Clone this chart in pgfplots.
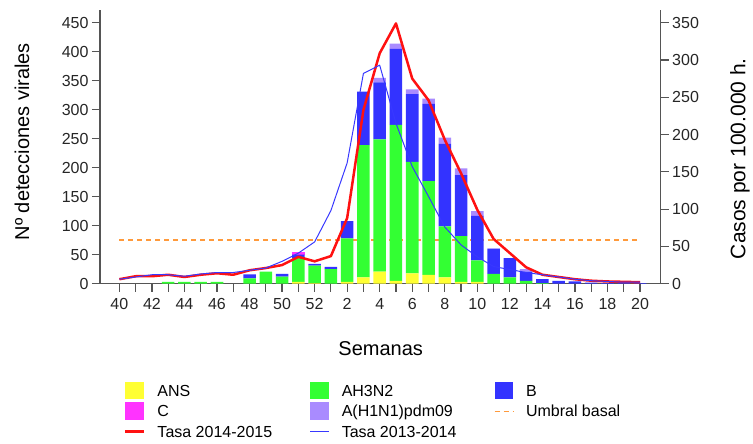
\documentclass[border=0pt]{standalone}
\usepackage{fontspec}
\setmainfont{Liberation Sans}
\usepackage{pgfplots}
\usepackage{pgfplotstable}
\pgfplotsset{compat=1.18}
\definecolor{ansc}{HTML}{FFFF33}
\definecolor{h3c}{HTML}{33FF33}
\definecolor{bc}{HTML}{3333FF}
\definecolor{cc}{HTML}{FF33FF}
\definecolor{h1c}{HTML}{A98BFF}
\definecolor{redl}{HTML}{FF1111}
\definecolor{bluel}{HTML}{3838FF}
\definecolor{umb}{HTML}{FF9A3C}
\definecolor{axc}{HTML}{555555}
\pgfplotsset{
 swatch/.style={legend image code/.code={\fill[##1] (0pt,-8.85pt) rectangle (18.7pt,8.85pt);}},
 lineswatch/.style={legend image code/.code={\path[draw=none,fill=none] (0pt,-8.85pt) rectangle (18.7pt,8.85pt); \draw[##1] (0pt,0pt) -- (18.7pt,0pt);}},
 common/.style={scale only axis, width=560.7pt, height=273.7pt, xmin=-1.19, xmax=33.27, ymin=0,
   at={(100pt,160.3pt)}, anchor=south west,
   /pgf/number format/assume math mode=true,
   tick label style={font=\fontsize{16}{19}\selectfont, text=black!85},
   tick align=outside, major tick length=8pt,
   every tick/.style={axc, line width=1.2pt},
   axis line style={axc, line width=1.2pt}}
}
\pgfplotstableread{
idx ans h3 b c h1 red blue
0 0 0 0 0 0 6 6
1 0 0 0 0 0 10 9
2 0 0 0 0 0 10 12
3 0 3 0 0 0 12 12
4 0 3 0 0 0 9 10
5 0 3 0 0 0 12 13
6 0 3 0 0 0 14 15
7 0 0 0 0 0 12 15
8 0 9 7 0 0 18 18
9 0 21 0 0 0 21 21
10 0 12 5 0 0 25 30
11 3 41 6 5 0 36 41
12 1 30 3 0 0 30 56
13 0 25 4 0 0 37 98
14 3 75 30 0 0 88 162
15 11 228 92 0 0 233 282
16 21 228 98 0 8 309 293
17 5 269 131 0 9 349 215
18 18 192 117 0 8 275 157
19 15 162 133 0 9 246 117
20 11 88 142 0 11 193 76
21 3 79 105 0 12 148 52
22 3 37 77 0 8 99 36
23 0 17 43 0 1 60 23
24 0 11 33 0 0 41 19
25 0 5 16 0 4 22 15
26 0 1 7 0 0 12 12
27 0 0 5 0 0 9 9
28 0 0 4 0 0 6 6
29 0 0 2 0 0 4 4
30 0 0 1 0 0 3 3
31 0 0 1 0 0 2.5 2
32 0 0 1 0 0 2 2
}\data
\pgfplotstableread{
x y
0 58.6
32 58.6
}\umbral
\begin{document}
\begin{tikzpicture}
\useasboundingbox (0,0) rectangle (753pt,444pt);
% basal threshold (behind bars), right-axis units
\begin{axis}[common, ymax=367, hide axis]
\addplot[umb, line width=1.5pt, dash pattern=on 5pt off 4pt] table[x=x,y=y]{\umbral};
\end{axis}
% bars, left axis
\begin{axis}[common, ymax=471.9,
  axis x line*=bottom, axis y line*=left,
  ybar stacked, bar width=0.77,
  xtick={0,...,32},
  xticklabels={40,,42,,44,,46,,48,,50,,52,,2,,4,,6,,8,,10,,12,,14,,16,,18,,20},
  xticklabel style={yshift=-3pt},
  ytick={0,50,...,450},
  xlabel={Semanas},
  xlabel style={at={(axis description cs:0.5006,-0.2386)}, anchor=center, font=\fontsize{20}{24}\selectfont},
  ylabel={Nº detecciones virales},
  ylabel style={at={(axis description cs:-0.139,0.519)}, anchor=center, font=\fontsize{20}{24}\selectfont},
  ]
\addplot[fill=ansc, draw=none] table[x=idx,y=ans]{\data};
\addplot[fill=h3c, draw=none] table[x=idx,y=h3]{\data};
\addplot[fill=bc, draw=none] table[x=idx,y=b]{\data};
\addplot[fill=cc, draw=none] table[x=idx,y=c]{\data};
\addplot[fill=h1c, draw=none] table[x=idx,y=h1]{\data};
\end{axis}
% rates, right axis
\begin{axis}[common, ymax=367,
  axis x line=none, axis y line*=right,
  ytick={0,50,...,350},
  ylabel={Casos por 100.000 h.},
  ylabel style={at={(axis description cs:1.1414,0.457)}, anchor=center, font=\fontsize{21}{24}\selectfont},
  legend columns=3,
  legend cell align=left,
  legend style={at={(axis description cs:0.0428,-0.358)}, anchor=north west,
    draw=none, fill=none, inner sep=0pt, outer sep=0pt, row sep=2.8pt,
    font=\fontsize{16}{19}\selectfont,
    nodes={inner sep=0pt, text height=11.6pt, text depth=0pt},
    /tikz/every odd column/.append style={column sep=12.3pt},
    /tikz/every even column/.append style={column sep=37.5pt}},
  ]
\addlegendimage{swatch, fill=ansc, draw=none}
\addlegendimage{swatch, fill=h3c, draw=none}
\addlegendimage{swatch, fill=bc, draw=none}
\addlegendimage{swatch, fill=cc, draw=none}
\addlegendimage{swatch, fill=h1c, draw=none}
\addlegendimage{lineswatch, umb, line width=1pt, dash pattern=on 5pt off 4pt}
\addplot[lineswatch, redl, line width=2.5pt, line join=round, mark=none] table[x=idx,y=red]{\data};
\addplot[lineswatch, bluel, line width=1pt, line join=round, mark=none] table[x=idx,y=blue]{\data};
\legend{ANS, AH3N2, B, C, A(H1N1)pdm09, Umbral basal, Tasa 2014-2015, Tasa 2013-2014}
\end{axis}
\end{tikzpicture}
\end{document}
